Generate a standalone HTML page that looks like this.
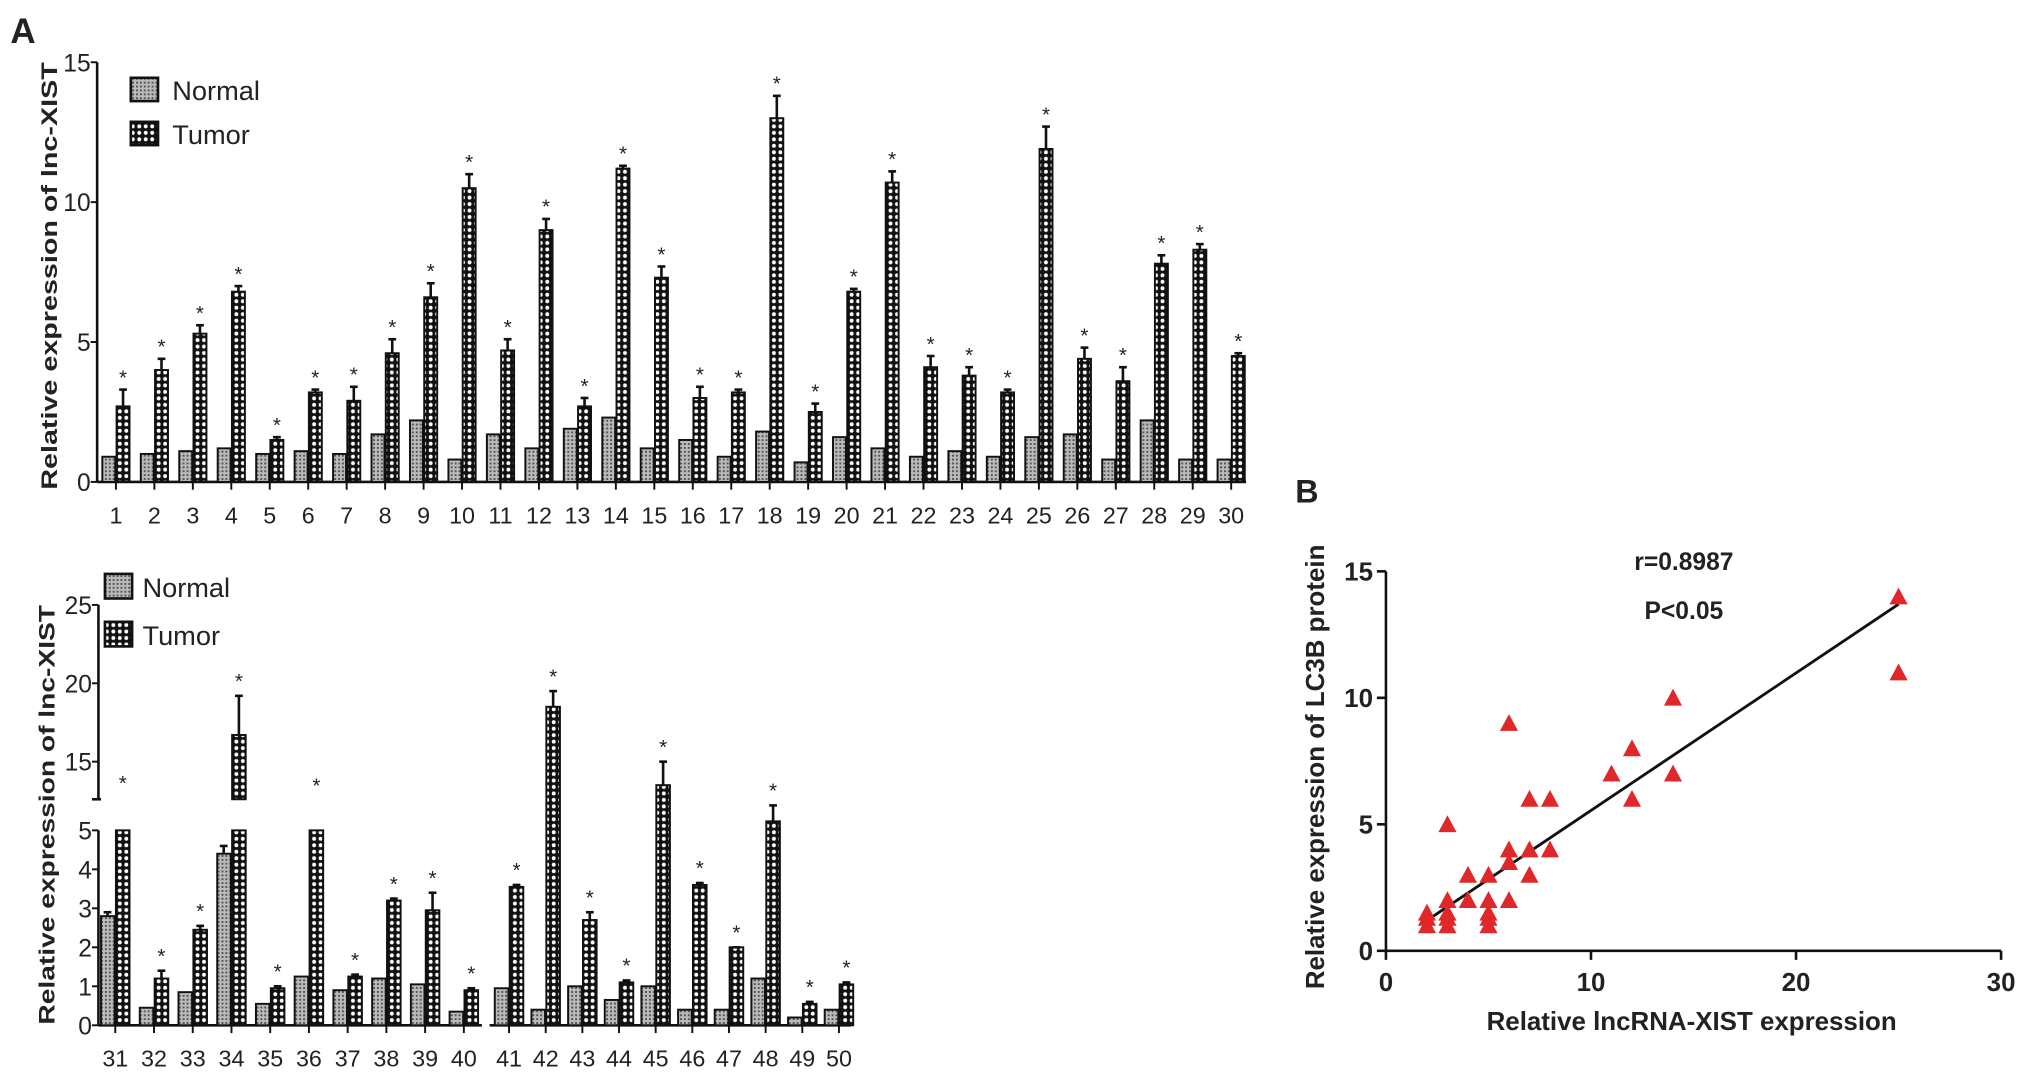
<!DOCTYPE html>
<html><head><meta charset="utf-8"><style>
html,body{margin:0;padding:0;background:#fff}
svg{display:block}
text{font-family:"Liberation Sans",sans-serif;fill:#222}
.cond{font-family:"Liberation Sans Narrow","Liberation Sans",sans-serif}
</style></head><body>
<svg id="fig" width="2031" height="1083" viewBox="0 0 1568 836" xmlns="http://www.w3.org/2000/svg">
<defs>
<pattern id="pn" width="3" height="3" patternUnits="userSpaceOnUse"><rect width="3" height="3" fill="#bbb"/><rect width="1.5" height="1.5" fill="#555"/></pattern>
<pattern id="pt" width="5" height="5" patternUnits="userSpaceOnUse"><rect width="5" height="5" fill="#111"/><circle cx="2.5" cy="2.5" r="1.5" fill="#fff"/></pattern>
</defs>
<text x="8" y="33" font-size="27" font-weight="bold">A</text>
<text x="1000" y="388" font-size="25" font-weight="bold">B</text>
<g id="top"></g>
<g id="bot"></g>
<g id="sc"></g>
</svg>
<script>
// ---- top chart data ----
const topCats = [1,2,3,4,5,6,7,8,9,10,11,12,13,14,15,16,17,18,19,20,21,22,23,24,25,26,27,28,29,30];
const topNormal = [0.9,1.0,1.1,1.2,1.0,1.1,1.0,1.7,2.2,0.8,1.7,1.2,1.9,2.3,1.2,1.5,0.9,1.8,0.7,1.6,1.2,0.9,1.1,0.9,1.6,1.7,0.8,2.2,0.8,0.8];
const topTumor = [2.7,4.0,5.3,6.8,1.5,3.2,2.9,4.6,6.6,10.5,4.7,9.0,2.7,11.2,7.3,3.0,3.2,13.0,2.5,6.8,10.7,4.1,3.8,3.2,11.9,4.4,3.6,7.8,8.3,4.5];
const topErr = [0.6,0.4,0.3,0.2,0.1,0.1,0.5,0.5,0.5,0.5,0.4,0.4,0.3,0.1,0.4,0.4,0.1,0.8,0.3,0.1,0.4,0.4,0.3,0.1,0.8,0.4,0.5,0.3,0.2,0.1];
const topTicks = [0,5,10,15];
// ---- bottom chart data ----
const botCats = [31,32,33,34,35,36,37,38,39,40,41,42,43,44,45,46,47,48,49,50];
const botNormal = [2.8,0.45,0.85,4.4,0.55,1.25,0.9,1.2,1.05,0.35,0.95,0.4,1.0,0.65,1.0,0.4,0.4,1.2,0.2,0.4];
const botNormalErr = [0.1,0,0,0.2,0,0,0,0,0,0,0,0,0,0,0,0,0,0,0,0];
const botTumor = [12.2,1.2,2.45,16.7,0.95,12.0,1.25,3.2,2.95,0.9,3.55,18.5,2.7,1.1,13.5,3.6,2.0,7.2,0.55,1.05];
const botErr = [0.5,0.2,0.1,2.5,0.05,0.3,0.05,0.05,0.45,0.05,0.05,1.0,0.2,0.05,1.5,0.05,0,3.9,0.05,0.05];
const botLowTicks = [0,1,2,3,4,5];
const botHighTicks = [15,20,25];
// ---- scatter data ----
const scX = [2,2,2,3,3,3,3,3,4,4,4,5,5,5,5,5,6,6,6,6,7,7,7,8,8,11,12,12,14,14,25,25];
const scY = [1,1.3,1.5,1,1.3,1.5,2,5,2,2,3,1,1.3,1.5,2,3,2,3.5,4,9,3,4,6,4,6,7,6,8,7,10,11,14];
const fitLine = [[2,1.2],[25,13.7]];
const scXTicks = [0,10,20,30];
const scYTicks = [0,5,10,15];

const NS="http://www.w3.org/2000/svg";
function mk(parent,tag,attrs,txt){const e=document.createElementNS(NS,tag);for(const k in attrs)e.setAttribute(k,attrs[k]);if(txt!==undefined)e.textContent=txt;parent.appendChild(e);return e;}

// ===== TOP =====
(function(){
const g=document.getElementById('top');
const y0=372, ppu=21.6, ax=75;
const Y=v=>y0-v*ppu;
const X=i=>89.5+i*29.69;
mk(g,'line',{x1:ax,y1:Y(15),x2:ax,y2:y0,stroke:'#111','stroke-width':2});
mk(g,'line',{x1:ax,y1:y0,x2:962,y2:y0,stroke:'#111','stroke-width':2});
topTicks.forEach(t=>{
 mk(g,'line',{x1:ax-5,y1:Y(t),x2:ax,y2:Y(t),stroke:'#111','stroke-width':1.5});
 const l=mk(g,'text',{x:ax-5,y:Y(t)+7,'font-size':19,'text-anchor':'end',class:'cond'},t);
 
 
});
topCats.forEach((c,i)=>{
 const cx=X(i);
 mk(g,'line',{x1:cx,y1:y0,x2:cx,y2:y0+6,stroke:'#111','stroke-width':1.5});
 const l=mk(g,'text',{x:cx,y:y0+32,'font-size':18,'text-anchor':'middle',class:'cond'},c);
 
 
 const n=mk(g,'rect',{x:cx-10.5,y:Y(topNormal[i]),width:10,height:topNormal[i]*ppu,fill:'url(#pn)',stroke:'#111','stroke-width':1.5});
 
 
 const t=mk(g,'rect',{x:cx+0.5,y:Y(topTumor[i]),width:10,height:topTumor[i]*ppu,fill:'url(#pt)',stroke:'#111','stroke-width':1.5});
 
 
 const et=Y(topTumor[i]+topErr[i]);
 mk(g,'line',{x1:cx+5.5,y1:Y(topTumor[i]),x2:cx+5.5,y2:et,stroke:'#111','stroke-width':2});
 mk(g,'line',{x1:cx+2.5,y1:et,x2:cx+8.5,y2:et,stroke:'#111','stroke-width':2});
 const s=mk(g,'text',{x:cx+5.5,y:et-4,'font-size':16,'text-anchor':'middle'},'*');
 
 
});
const yl=mk(g,'text',{transform:'translate(44,213) rotate(-90)','font-size':17,'font-weight':'bold','text-anchor':'middle',fill:'#333',textLength:330,lengthAdjust:'spacingAndGlyphs'},'Relative expression of lnc-XIST');


[['Normal','url(#pn)',60],['Tumor','url(#pt)',94]].forEach(([n,f,y])=>{
 const le=mk(g,'g',{});
 
 
 mk(le,'rect',{x:101,y:y,width:21,height:18,fill:f,stroke:'#111','stroke-width':2});
 mk(le,'text',{x:133,y:y+17,'font-size':21,class:'cond'},n);
});
})();

// ===== BOTTOM =====
(function(){
const g=document.getElementById('bot');
const y0=791.5, lpu=30.1, ax=76, brk=617, hpu=12.1;
function Y(v){
 if(v<=5) return y0-v*lpu;
 const y5=y0-5*lpu;
 if(v<=12.6) return y5-(v-5)/7.6*(y5-brk);
 return brk-(v-12.6)*hpu;
}
const X=i=> i<10 ? 89+i*29.9 : 393+(i-10)*28.3;
mk(g,'line',{x1:ax,y1:Y(5),x2:ax,y2:y0,stroke:'#111','stroke-width':2});
mk(g,'line',{x1:ax,y1:Y(25),x2:ax,y2:brk,stroke:'#111','stroke-width':2});
mk(g,'line',{x1:ax-5,y1:brk,x2:ax+2,y2:brk,stroke:'#111','stroke-width':2});
mk(g,'line',{x1:ax,y1:y0,x2:372,y2:y0,stroke:'#111','stroke-width':2});
mk(g,'line',{x1:378,y1:y0,x2:657,y2:y0,stroke:'#111','stroke-width':2});
botLowTicks.concat(botHighTicks).forEach(t=>{
 mk(g,'line',{x1:ax-5,y1:Y(t),x2:ax,y2:Y(t),stroke:'#111','stroke-width':1.5});
 const l=mk(g,'text',{x:ax-5,y:Y(t)+7,'font-size':19,'text-anchor':'end',class:'cond'},t);
 
 
});
botCats.forEach((c,i)=>{
 const cx=X(i), left=i<10;
 mk(g,'line',{x1:cx,y1:y0,x2:cx,y2:y0+6,stroke:'#111','stroke-width':1.5});
 const l=mk(g,'text',{x:cx,y:y0+32,'font-size':18,'text-anchor':'middle',class:'cond'},c);
 
 
 const n=mk(g,'rect',{x:cx-11,y:Y(botNormal[i]),width:10.5,height:y0-Y(botNormal[i]),fill:'url(#pn)',stroke:'#111','stroke-width':1.5});
 
 
 if(botNormalErr[i]>0){const e=Y(botNormal[i]+botNormalErr[i]);mk(g,'line',{x1:cx-6,y1:Y(botNormal[i]),x2:cx-6,y2:e,stroke:'#111','stroke-width':2});mk(g,'line',{x1:cx-9,y1:e,x2:cx-3,y2:e,stroke:'#111','stroke-width':2});}
 const v=botTumor[i];
 let topY;
 if(left && v>5){
  const t=mk(g,'rect',{x:cx+0.5,y:Y(5),width:10.5,height:y0-Y(5),fill:'url(#pt)',stroke:'#111','stroke-width':1.5});
  
  
  if(v>12.6){const u=mk(g,'rect',{x:cx+0.5,y:Y(v),width:10.5,height:brk-Y(v),fill:'url(#pt)',stroke:'#111','stroke-width':1.5});
   
   }
  topY=Y(v);
 } else {
  const t=mk(g,'rect',{x:cx+0.5,y:Y(v),width:10.5,height:y0-Y(v),fill:'url(#pt)',stroke:'#111','stroke-width':1.5});
  
  
  topY=Y(v);
 }
 const et=Y(v+botErr[i]);
 if(!(left && v>5 && v<=12.6)){
  mk(g,'line',{x1:cx+5.75,y1:topY,x2:cx+5.75,y2:et,stroke:'#111','stroke-width':2});
  mk(g,'line',{x1:cx+2.75,y1:et,x2:cx+8.75,y2:et,stroke:'#111','stroke-width':2});
 }
 const s=mk(g,'text',{x:cx+5.75,y:et-6,'font-size':16,'text-anchor':'middle'},'*');
 
 
});
const yl=mk(g,'text',{transform:'translate(42,629) rotate(-90)','font-size':17,'font-weight':'bold','text-anchor':'middle',fill:'#333',textLength:324,lengthAdjust:'spacingAndGlyphs'},'Relative expression of lnc-XIST');


[['Normal','url(#pn)',443],['Tumor','url(#pt)',480]].forEach(([n,f,y])=>{
 const le=mk(g,'g',{});
 
 
 mk(le,'rect',{x:81,y:y,width:21,height:19,fill:f,stroke:'#111','stroke-width':2});
 mk(le,'text',{x:110,y:y+18,'font-size':21,class:'cond'},n);
});
})();

// ===== SCATTER =====
(function(){
const g=document.getElementById('sc');
const x0=1070, xpu=15.83, y0=734, ypu=19.53;
const X=v=>x0+v*xpu, Y=v=>y0-v*ypu;
mk(g,'line',{x1:x0,y1:Y(15),x2:x0,y2:y0,stroke:'#111','stroke-width':2});
mk(g,'line',{x1:x0,y1:y0,x2:X(30),y2:y0,stroke:'#111','stroke-width':2});
scXTicks.forEach(t=>{
 mk(g,'line',{x1:X(t),y1:y0,x2:X(t),y2:y0+7,stroke:'#111','stroke-width':2});
 const l=mk(g,'text',{x:X(t),y:y0+31,'font-size':20,'font-weight':'bold','text-anchor':'middle',fill:'#333'},t);
 
 
});
scYTicks.forEach(t=>{
 mk(g,'line',{x1:x0-7,y1:Y(t),x2:x0,y2:Y(t),stroke:'#111','stroke-width':2});
 const l=mk(g,'text',{x:x0-10,y:Y(t)+7,'font-size':20,'font-weight':'bold','text-anchor':'end',fill:'#333'},t);
 
 
});
const fl=mk(g,'line',{x1:X(fitLine[0][0]),y1:Y(fitLine[0][1]),x2:X(fitLine[1][0]),y2:Y(fitLine[1][1]),stroke:'#111','stroke-width':2.2});


scX.forEach((x,i)=>{
 const px=X(x), py=Y(scY[i]);
 const p=mk(g,'polygon',{points:`${px},${py-7} ${px-7},${py+6} ${px+7},${py+6}`,fill:'#e0282a'});
 
 
});
const xt=mk(g,'text',{x:1306,y:795,'font-size':20,'font-weight':'bold','text-anchor':'middle',fill:'#333'},'Relative lncRNA-XIST expression');


const yt=mk(g,'text',{transform:'translate(1022,592) rotate(-90)','font-size':20,'font-weight':'bold','text-anchor':'middle',fill:'#333'},'Relative expression of LC3B protein');


const r=mk(g,'text',{x:1300,y:440,'font-size':19,'font-weight':'bold','text-anchor':'middle',fill:'#333'},'r=0.8987');


const pv=mk(g,'text',{x:1300,y:478,'font-size':19,'font-weight':'bold','text-anchor':'middle',fill:'#333'},'P<0.05');


})();
</script>
</body></html>
